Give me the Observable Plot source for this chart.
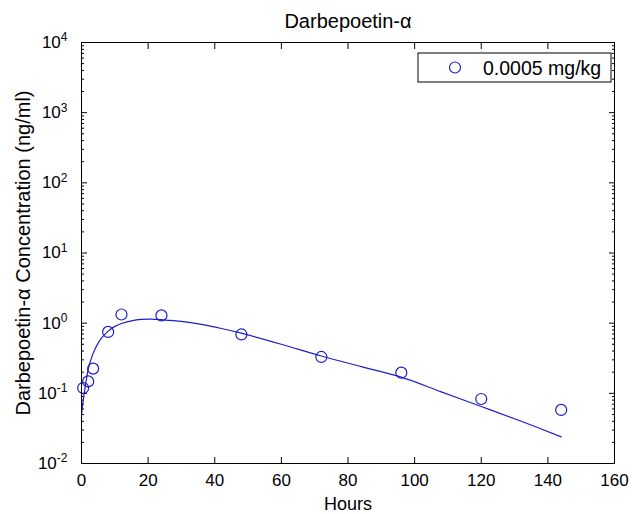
<!DOCTYPE html>
<html>
<head>
<meta charset="utf-8">
<script src="https://cdn.jsdelivr.net/npm/d3@7"></script>
<script src="https://cdn.jsdelivr.net/npm/@observablehq/plot@0.6"></script>
<style>
  html, body { margin: 0; padding: 0; background: #fff; }
  #chart svg { display: block; }
</style>
</head>
<body>
<div id="chart"></div>
<script>
// ---- Text ----
const chartTitle = "Darbepoetin-α";
const xLabel = "Hours";
const yLabel = "Darbepoetin-α Concentration (ng/ml)";
const seriesName = "0.0005 mg/kg";

// ---- Observed data (circles) ----
const obsHours = [0.5, 2, 3.5, 8, 12, 24, 48, 72, 96, 120, 144];
const obsConc  = [0.119, 0.148, 0.225, 0.75, 1.33, 1.29, 0.69, 0.33, 0.197, 0.083, 0.058];

// ---- Fitted curve (line) ----
const fitHours = [0, 0.5, 1, 1.5, 2, 3, 4, 5, 6, 8, 10, 12, 15, 18, 21, 24, 30, 36, 42, 48, 60, 72, 84, 96, 108, 120, 132, 144];
const fitConc  = [0.05, 0.078, 0.115, 0.16, 0.22, 0.32, 0.42, 0.52, 0.61, 0.77, 0.9, 0.99, 1.08, 1.13, 1.14, 1.12, 1.06, 0.96, 0.84, 0.72, 0.5, 0.34, 0.24, 0.17, 0.105, 0.065, 0.04, 0.024];

// ---- Ticks ----
const xTicks = [0, 20, 40, 60, 80, 100, 120, 140, 160];
const yTicks = [0.01, 0.1, 1, 10, 100, 1000, 10000];
const yExponents = [-2, -1, 0, 1, 2, 3, 4];
const minorMultipliers = [2, 3, 4, 5, 6, 7, 8, 9];

const blue = "#1e1ec8";
const font = "'Liberation Sans', Arial, Helvetica, sans-serif";

const obs = obsHours.map((h, i) => ({hours: h, conc: obsConc[i]}));
const fit = fitHours.map((h, i) => ({hours: h, conc: fitConc[i]}));
const yMinor = [];
yTicks.slice(0, -1).forEach(d => minorMultipliers.forEach(m => yMinor.push(d * m)));
const expOf = new Map(yTicks.map((d, i) => [d, yExponents[i]]));

const chart = Plot.plot({
  width: 637,
  height: 514,
  marginLeft: 81,
  marginRight: 23,
  marginTop: 42,
  marginBottom: 51,
  style: {fontFamily: font, fontSize: "17px", background: "#fff", color: "#000"},
  x: {domain: [0, 160]},
  y: {type: "log", domain: [0.01, 10000]},
  marks: [
    // x axis labels + inward ticks (bottom and top)
    Plot.axisX(xTicks, {anchor: "bottom", tickSize: 0, tickPadding: 10, label: null, fontSize: 17}),
    Plot.axisX(xTicks, {anchor: "bottom", tickSize: -6, tickFormat: () => "", label: null}),
    Plot.axisX(xTicks, {anchor: "top", tickSize: -6, tickFormat: () => "", label: null}),
    // y axis labels + inward ticks (left and right), major and minor
    Plot.axisY(yTicks, {anchor: "left", tickSize: 0, tickPadding: 14, label: null, fontSize: 17,
      tickFormat: d => "E" + expOf.get(d)}),
    Plot.axisY(yTicks, {anchor: "left", tickSize: -6, tickFormat: () => "", label: null}),
    Plot.axisY(yTicks, {anchor: "right", tickSize: -6, tickFormat: () => "", label: null}),
    Plot.axisY(yMinor, {anchor: "left", tickSize: -3, tickFormat: () => "", label: null}),
    Plot.axisY(yMinor, {anchor: "right", tickSize: -3, tickFormat: () => "", label: null}),
    // data
    Plot.line(fit, {x: "hours", y: "conc", stroke: blue, strokeWidth: 1.2, curve: "catmull-rom"}),
    Plot.dot(obs, {x: "hours", y: "conc", r: 5.5, stroke: blue, fill: "none", strokeWidth: 1.2}),
    Plot.frame({stroke: "#000", strokeWidth: 1}),
    // title and axis labels
    Plot.text([chartTitle], {text: d => d, frameAnchor: "top", textAnchor: "middle", lineAnchor: "bottom", dy: -15, fontSize: 20}),
    Plot.text([xLabel], {text: d => d, frameAnchor: "bottom", textAnchor: "middle", lineAnchor: "bottom", dy: 46, fontSize: 18}),
    Plot.text([yLabel], {text: d => d, frameAnchor: "left", textAnchor: "middle", lineAnchor: "bottom", rotate: -90, dx: -52, fontSize: 20})
  ]
});

// Superscript exponents on the y tick labels (10^n)
d3.select(chart).selectAll('g[aria-label="y-axis tick label"] text').each(function() {
  const t = this.textContent;
  if (!t.startsWith("E")) return;
  const e = t.slice(1);
  const sel = d3.select(this);
  sel.text("10");
  sel.append("tspan").attr("dy", "-0.55em").attr("font-size", "12px").text(e);
});

// Legend box (top-right inside the axes)
const svg = d3.select(chart);
const lg = svg.append("g").attr("font-family", font).attr("font-size", 19.5);
lg.append("rect").attr("x", 418).attr("y", 53).attr("width", 193).attr("height", 29)
  .attr("fill", "#fff").attr("stroke", "#000").attr("stroke-width", 1);
lg.append("circle").attr("cx", 455).attr("cy", 67.5).attr("r", 5.5)
  .attr("fill", "none").attr("stroke", blue).attr("stroke-width", 1.2);
lg.append("text").attr("x", 483).attr("y", 74.5).attr("text-anchor", "start").attr("fill", "#000").text(seriesName);

document.getElementById("chart").appendChild(chart);
</script>
</body>
</html>
